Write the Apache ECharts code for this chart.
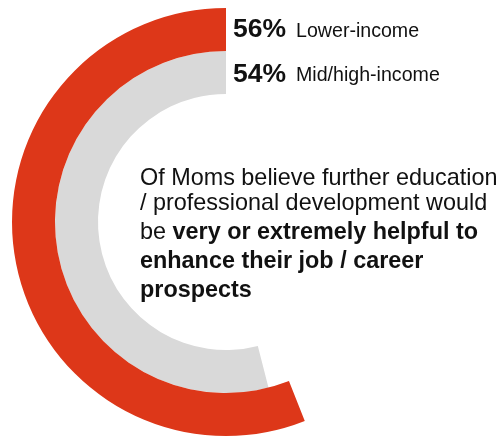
<!DOCTYPE html>
<html>
<head>
<meta charset="utf-8">
<script src="https://cdn.jsdelivr.net/npm/echarts@6/dist/echarts.min.js"></script>
<style>
  html, body { margin: 0; padding: 0; background: #ffffff; }
  #chart { width: 502px; height: 438px; }
</style>
</head>
<body>
<div id="chart"></div>
<script>
// Share of moms who say further education would help their careers
const groups = ['Mid/high-income', 'Lower-income'];   // inner ring first
const shares = [54, 56];                               // percent
const ringColors = ['#D9D9D9', '#DD3719'];

// Caption, one entry per line; {b|...} marks bold runs
const captionLines = [
  'Of Moms believe further education',
  '/ professional development would',
  'be {b|very or extremely helpful to}',
  '{b|enhance their job / career}',
  '{b|prospects}'
];

const FONT = 'Arial, "Liberation Sans", Helvetica, sans-serif';
const chart = echarts.init(document.getElementById('chart'), null, { renderer: 'canvas' });

// Legend-style labels next to the ring starts (outer ring on top)
const legendItems = [];
const legendRows = [30.5, 75];
[1, 0].forEach((gi, row) => {
  legendItems.push({
    type: 'text',
    left: 233,
    top: legendRows[row] - 14,
    style: {
      text: '{v|' + shares[gi] + '%}{n|' + groups[gi] + '}',
      rich: {
        v: { fontFamily: FONT, fontWeight: 'bold', fontSize: 26.5, fill: '#111111', lineHeight: 28, verticalAlign: 'middle' },
        n: { fontFamily: FONT, fontSize: 19.6, fill: '#111111', lineHeight: 28, padding: [3, 0, 0, 10], verticalAlign: 'middle' }
      }
    }
  });
});

const captionCenters = [178.5, 203.5, 233, 262, 291];
const captionItems = captionLines.map((line, i) => ({
  type: 'text',
  left: 140,
  top: captionCenters[i] - 13,
  style: {
    text: line,
    fontFamily: FONT,
    fontSize: 23.4,
    fill: '#111111',
    lineHeight: 26,
    rich: {
      b: { fontFamily: FONT, fontWeight: 'bold', fontSize: 23.4, fill: '#111111', lineHeight: 26 }
    }
  }
}));

chart.setOption({
  animation: false,
  polar: { center: [226, 222], radius: [128, 214] },
  angleAxis: {
    type: 'value', min: 0, max: 100, startAngle: 90, clockwise: false,
    show: false
  },
  radiusAxis: {
    type: 'category', data: groups, show: false
  },
  series: [{
    type: 'bar',
    coordinateSystem: 'polar',
    barCategoryGap: '0%',
    data: shares.map((v, i) => ({ value: v, itemStyle: { color: ringColors[i] } })),
    silent: true
  }],
  graphic: legendItems.concat(captionItems)
});
</script>
</body>
</html>
